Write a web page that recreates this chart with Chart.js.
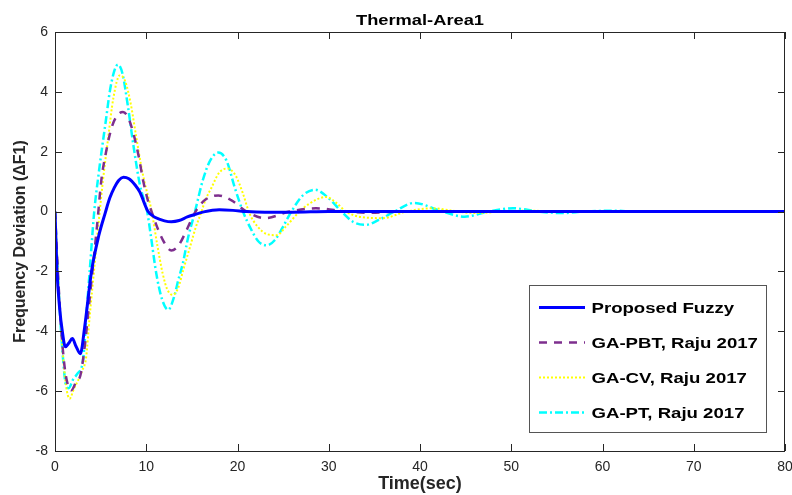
<!DOCTYPE html>
<html>
<head>
<meta charset="utf-8">
<script src="https://cdn.jsdelivr.net/npm/chart.js@4.4.1/dist/chart.umd.min.js"></script>
<style>
  body { margin: 0; background: #fff; }
  #wrap { width: 792px; height: 495px; }
</style>
</head>
<body>
<div id="wrap"><canvas id="chart" width="792" height="495"></canvas></div>
<script>
// values
const fuzzyT = [0, 0.22, 0.5, 0.8, 1.14, 1.5, 1.9, 2.3, 2.78, 3.25, 4.0, 4.8, 5.5, 6.0, 6.5, 7.0, 7.5, 8.1, 8.8, 9.3, 10.2, 11.0, 12.0, 12.75, 13.6, 14.5, 15.3, 16.3, 18.0, 19.5, 21, 23, 26, 30, 40, 50, 60, 70, 80];
const fuzzy = [0, -2.0, -3.2, -4.0, -4.52, -4.4, -4.24, -4.5, -4.75, -3.86, -2.0, -0.8, -0.05, 0.45, 0.8, 1.05, 1.15, 1.1, 0.88, 0.65, 0.0, -0.2, -0.31, -0.34, -0.3, -0.18, -0.1, -0.01, 0.06, 0.04, 0.0, -0.02, -0.02, 0, 0, 0, 0, 0, 0];

const pbtT = [0, 0.4, 0.8, 1.2, 1.8, 2.3, 2.8, 3.3, 3.7, 4.1, 4.6, 5.08, 5.6, 6.2, 6.8, 7.45, 8.0, 8.6, 9.2, 9.65, 10.2, 10.7, 11.3, 12.0, 12.75, 13.5, 14.3, 15.1, 15.6, 16.5, 17.9, 19.3, 21, 23, 25.7, 28.6, 31.9, 34.5, 38, 50, 60, 80];
const pbt = [0, -2.5, -4.4, -5.5, -5.97, -5.7, -5.45, -4.4, -3.2, -2.0, -0.5, 1.05, 2.0, 2.8, 3.2, 3.33, 3.15, 2.6, 1.8, 1.05, 0.35, -0.1, -0.6, -1.05, -1.3, -1.15, -0.7, -0.17, 0.1, 0.4, 0.54, 0.38, 0.0, -0.22, 0, 0.11, 0, -0.04, 0, 0, 0, 0];

const cvT = [0, 0.4, 0.8, 1.2, 1.6, 2.1, 2.6, 3.0, 3.4, 3.8, 4.27, 4.8, 5.26, 5.8, 6.4, 7.1, 7.7, 8.3, 8.9, 9.4, 9.8, 10.6, 11.2, 11.8, 12.3, 12.9, 13.5, 14.1, 14.8, 15.4, 16.0, 16.5, 17.1, 18.0, 18.9, 19.8, 20.6, 21.3, 22.2, 23.2, 24.3, 25.3, 26.8, 27.8, 29.7, 30.8, 31.9, 33.5, 35.9, 38.5, 41.4, 43.5, 46, 49, 52, 55, 60, 80];
const cv = [0, -2.5, -4.5, -5.8, -6.25, -5.9, -5.6, -5.3, -4.9, -3.5, -2.0, -0.3, 1.05, 2.4, 3.8, 4.55, 4.35, 3.6, 2.5, 1.6, 1.0, 0.0, -1.1, -2.07, -2.6, -2.78, -2.55, -1.9, -1.18, -0.55, -0.05, 0.4, 0.77, 1.3, 1.44, 1.2, 0.6, -0.05, -0.5, -0.75, -0.79, -0.5, 0.0, 0.25, 0.49, 0.3, 0, -0.18, -0.22, 0.0, 0.11, 0.03, -0.05, 0, 0.03, 0, 0, 0];

const ptT = [0, 0.4, 0.8, 1.25, 1.5, 2.0, 2.5, 3.07, 3.5, 3.8, 4.3, 4.8, 5.1, 5.6, 6.0, 6.5, 6.9, 7.4, 8.0, 8.6, 9.3, 10.1, 10.5, 11.1, 11.7, 12.4, 13.1, 13.5, 14.0, 14.6, 15.3, 16.2, 17.0, 17.9, 18.8, 19.7, 20.6, 21.5, 22.3, 23.2, 24.1, 25.0, 25.9, 27.2, 28.5, 29.8, 31.4, 32.7, 34.1, 35.5, 37.2, 39.4, 42, 44.9, 47.5, 50.2, 53, 55.6, 58, 61, 64, 80];
const pt = [0, -2.6, -4.6, -5.86, -5.9, -5.6, -5.4, -4.97, -3.2, -2.0, 0.0, 1.3, 2.0, 3.1, 4.0, 4.7, 4.91, 4.6, 3.5, 2.2, 0.9, 0.0, -0.8, -2.07, -2.9, -3.28, -2.8, -2.3, -1.74, -0.85, -0.05, 1.05, 1.7, 1.97, 1.7, 0.8, 0.0, -0.6, -1.0, -1.13, -0.95, -0.5, 0.0, 0.55, 0.73, 0.5, 0.0, -0.35, -0.44, -0.28, 0.0, 0.29, 0.05, -0.17, 0, 0.11, 0, -0.05, 0, 0.03, 0, 0];

const seriesNames = ['Proposed Fuzzy', 'GA-PBT, Raju 2017', 'GA-CV, Raju 2017', 'GA-PT, Raju 2017'];
const xTicks = [0, 10, 20, 30, 40, 50, 60, 70, 80];
const yTicks = [-8, -6, -4, -2, 0, 2, 4, 6];

function pts(t, v) {
    return t.map((x, i) => ({ x: x, y: v[i] }));
}

const axisColor = '#262626';

// title, inward ticks on all four sides, box and the legend in the lower right
const frame = {
    id: 'frame',
    afterDatasetsDraw(chart) {
        const { ctx, chartArea: a, scales: { x, y } } = chart;
        ctx.save();
        ctx.strokeStyle = axisColor;
        ctx.lineWidth = 1;
        ctx.strokeRect(a.left + 0.5, a.top + 0.5, a.right - a.left - 1, a.bottom - a.top);
        ctx.beginPath();
        xTicks.forEach(v => {
            const px = Math.round(x.getPixelForValue(v)) + 0.5;
            ctx.moveTo(px, a.bottom); ctx.lineTo(px, a.bottom - 7);
            ctx.moveTo(px, a.top); ctx.lineTo(px, a.top + 7);
        });
        yTicks.forEach(v => {
            const py = Math.round(y.getPixelForValue(v)) + 0.5;
            ctx.moveTo(a.left, py); ctx.lineTo(a.left + 7, py);
            ctx.moveTo(a.right, py); ctx.lineTo(a.right - 7, py);
        });
        ctx.stroke();

        // title (text in the picture is stretched sideways)
        ctx.fillStyle = '#000';
        ctx.font = 'bold 15.5px "Liberation Sans", Arial, sans-serif';
        ctx.textAlign = 'center';
        ctx.textBaseline = 'alphabetic';
        ctx.save();
        ctx.translate((a.left + a.right) / 2, 25);
        ctx.scale(1.18, 1);
        ctx.fillText('Thermal-Area1', 0, 0);
        ctx.restore();

        // legend
        const bx = 529.5, by = 285.5, bw = 237, bh = 147;
        ctx.fillStyle = '#fff';
        ctx.fillRect(bx, by, bw, bh);
        ctx.strokeStyle = '#555';
        ctx.strokeRect(bx, by, bw, bh);
        ctx.textAlign = 'left';
        chart.data.datasets.forEach((ds, i) => {
            const base = 313 + i * 35;
            const ly = base - 5.5;
            ctx.save();
            ctx.strokeStyle = ds.borderColor;
            ctx.lineWidth = ds.borderWidth;
            ctx.setLineDash(ds.borderDash || []);
            ctx.beginPath();
            ctx.moveTo(539, ly); ctx.lineTo(585, ly);
            ctx.stroke();
            ctx.restore();
            ctx.save();
            ctx.fillStyle = '#000';
            ctx.translate(591.5, base);
            ctx.scale(1.2, 1);
            ctx.fillText(ds.label, 0, 0);
            ctx.restore();
        });
        ctx.restore();
    }
};

const ctx = document.getElementById('chart').getContext('2d');

new Chart(ctx, {
    type: 'line',
    data: {
        datasets: [
            {
                label: seriesNames[0],
                data: pts(fuzzyT, fuzzy),
                borderColor: '#0000FF',
                borderWidth: 3,
                order: 0
            },
            {
                label: seriesNames[1],
                data: pts(pbtT, pbt),
                borderColor: '#7E2F8E',
                borderWidth: 2.5,
                borderDash: [8, 7],
                order: 1
            },
            {
                label: seriesNames[2],
                data: pts(cvT, cv),
                borderColor: '#FFFF00',
                borderWidth: 2,
                borderDash: [2, 2],
                order: 2
            },
            {
                label: seriesNames[3],
                data: pts(ptT, pt),
                borderColor: '#00FFFF',
                borderWidth: 2.5,
                borderDash: [8, 3, 2, 3],
                order: 3
            }
        ]
    },
    options: {
        responsive: false,
        animation: false,
        layout: { padding: { top: 32, right: 7, left: 0, bottom: 0 } },
        elements: {
            point: { radius: 0 },
            line: { cubicInterpolationMode: 'monotone', fill: false }
        },
        plugins: {
            legend: { display: false },
            tooltip: { enabled: false }
        },
        scales: {
            x: {
                type: 'linear',
                min: 0,
                max: 80,
                afterBuildTicks: s => { s.ticks = xTicks.map(v => ({ value: v })); },
                afterFit: s => { s.height = 44; s.paddingLeft = 0; s.paddingRight = 0; },
                grid: { display: false, drawTicks: false },
                border: { display: false },
                ticks: {
                    padding: 8,
                    maxRotation: 0,
                    color: axisColor,
                    font: { family: '"Liberation Sans", Arial, sans-serif', size: 14 }
                },
                title: {
                    display: true,
                    text: 'Time(sec)',
                    color: axisColor,
                    padding: { top: 0, bottom: 0 },
                    font: { family: '"Liberation Sans", Arial, sans-serif', size: 18, weight: 'bold' }
                }
            },
            y: {
                min: -8,
                max: 6,
                afterBuildTicks: s => { s.ticks = yTicks.map(v => ({ value: v })); },
                afterFit: s => { s.width = 55; s.paddingTop = 0; s.paddingBottom = 0; },
                grid: { display: false, drawTicks: false },
                border: { display: false },
                ticks: {
                    padding: 7,
                    color: axisColor,
                    font: { family: '"Liberation Sans", Arial, sans-serif', size: 14 }
                },
                title: {
                    display: true,
                    text: 'Frequency Deviation (ΔF1)',
                    color: axisColor,
                    padding: { top: 11, bottom: 0 },
                    font: { family: '"Liberation Sans", Arial, sans-serif', size: 16, weight: 'bold' }
                }
            }
        }
    },
    plugins: [frame]
});
</script>
</body>
</html>
